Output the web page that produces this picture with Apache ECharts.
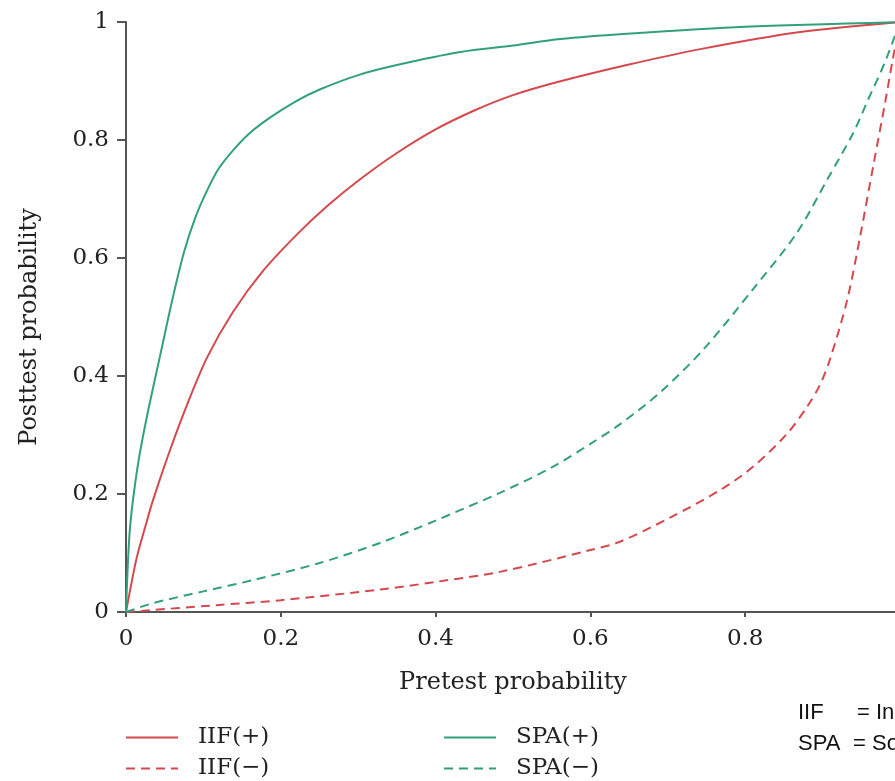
<!DOCTYPE html>
<html>
<head>
<meta charset="utf-8">
<script src="https://cdn.jsdelivr.net/npm/echarts@6/dist/echarts.min.js"></script>
<style>html,body{margin:0;padding:0;background:#fff}#c{width:895px;height:781px}</style>
</head>
<body>
<div id="c"></div>
<script>
// Tick labels (axis values)
const xTicks = [0, 0.2, 0.4, 0.6, 0.8, 1];
const yTicks = [0, 0.2, 0.4, 0.6, 0.8, 1];

// IIF(+) : pretest -> posttest
const iifPosX = [0, 0.005, 0.014, 0.025, 0.035, 0.057, 0.08, 0.105, 0.138, 0.177, 0.221, 0.26, 0.302, 0.35, 0.4, 0.45, 0.5, 0.56, 0.647, 0.742, 0.871, 1];
const iifPosY = [0, 0.035, 0.093, 0.145, 0.19, 0.275, 0.355, 0.432, 0.508, 0.578, 0.64, 0.688, 0.733, 0.778, 0.818, 0.85, 0.876, 0.899, 0.927, 0.954, 0.983, 1];

// IIF(-)
const iifNegX = [0, 0.121, 0.2, 0.328, 0.4, 0.483, 0.6, 0.638, 0.703, 0.768, 0.81, 0.854, 0.88, 0.897, 0.91, 0.932, 0.949, 0.966, 0.981, 0.99, 1];
const iifNegY = [0, 0.012, 0.02, 0.038, 0.051, 0.068, 0.105, 0.119, 0.16, 0.207, 0.246, 0.302, 0.348, 0.386, 0.43, 0.53, 0.64, 0.76, 0.865, 0.932, 1];

// SPA(+)
const spaPosX = [0, 0.002, 0.005, 0.01, 0.018, 0.03, 0.045, 0.06, 0.075, 0.09, 0.105, 0.12, 0.14, 0.16, 0.186, 0.22, 0.251, 0.3, 0.35, 0.432, 0.5, 0.561, 0.647, 0.8, 1];
const spaPosY = [0, 0.07, 0.14, 0.2, 0.27, 0.35, 0.44, 0.53, 0.61, 0.67, 0.715, 0.752, 0.785, 0.812, 0.838, 0.866, 0.886, 0.91, 0.927, 0.949, 0.96, 0.971, 0.98, 0.992, 1];

// SPA(-)
const spaNegX = [0, 0.035, 0.1, 0.164, 0.25, 0.328, 0.4, 0.483, 0.55, 0.6, 0.638, 0.69, 0.746, 0.81, 0.867, 0.906, 0.94, 0.959, 0.98, 1];
const spaNegY = [0, 0.015, 0.035, 0.054, 0.083, 0.117, 0.155, 0.202, 0.245, 0.285, 0.318, 0.372, 0.445, 0.547, 0.643, 0.733, 0.813, 0.869, 0.93, 1];

const seriesNames = ['IIF(+)', 'IIF(\u2212)', 'SPA(+)', 'SPA(\u2212)'];
const noteLines = [['IIF', '= Indirect immunofluorescence'], ['SPA', '= Solid phase assay']];

const RED = '#d4494e';
const GREEN = '#32a07a';
const SERIF = '"DejaVu Serif", serif';
const SANS = '"Liberation Sans", Arial, sans-serif';

function pairs(xs, ys) { return xs.map((x, i) => [x, ys[i]]); }

const chart = echarts.init(document.getElementById('c'), null, {renderer: 'canvas'});

function mkSeries(name, xs, ys, color, dashed) {
  return {
    name: name, type: 'line', data: pairs(xs, ys),
    showSymbol: false, symbol: 'none', smooth: 0.3,
    lineStyle: {color: color, width: 2, type: dashed ? [9, 6] : 'solid'},
    itemStyle: {color: color},
    emphasis: {disabled: true}, animation: false
  };
}

function fmt(list) {
  return v => { const t = list.find(k => Math.abs(k - v) < 1e-9); return t === undefined ? '' : String(t); };
}

const axisCommon = {
  type: 'value', min: 0, max: 1, interval: 0.2,
  axisLine: {show: true, lineStyle: {color: '#555', width: 2}},
  splitLine: {show: false},
  nameTextStyle: {color: '#222', fontFamily: SERIF, fontSize: 24},
  nameLocation: 'middle'
};
const labelCommon = {color: '#222', fontFamily: SERIF, fontSize: 23};

function legendItem(name, left, top) {
  return {
    orient: 'vertical', left: left, top: top, padding: 0, itemWidth: 52, itemHeight: 14,
    itemStyle: {opacity: 0, borderWidth: 0},
    textStyle: {color: '#222', fontFamily: SERIF, fontSize: 23, padding: [0, 0, 0, 15]},
    selectedMode: false, data: [name]
  };
}

chart.setOption({
  backgroundColor: '#fff',
  animation: false,
  grid: {left: 126, width: 774, top: 22, height: 590, containLabel: false, outerBoundsMode: 'none'},
  xAxis: Object.assign({}, axisCommon, {
    name: 'Pretest probability', nameGap: 59,
    axisTick: {show: true, length: 5, lineStyle: {color: '#555', width: 2}},
    axisLabel: Object.assign({}, labelCommon, {margin: 16, formatter: fmt(xTicks)})
  }),
  yAxis: Object.assign({}, axisCommon, {
    name: 'Posttest probability', nameGap: 84,
    nameTextStyle: Object.assign({}, axisCommon.nameTextStyle, {padding: [0, 20, 0, 0]}),
    axisTick: {show: true, length: 9, lineStyle: {color: '#555', width: 2}},
    axisLabel: Object.assign({}, labelCommon, {margin: 17, formatter: fmt(yTicks)})
  }),
  legend: [
    legendItem(seriesNames[0], 125, 726),
    legendItem(seriesNames[1], 125, 757),
    legendItem(seriesNames[2], 443, 726),
    legendItem(seriesNames[3], 443, 757)
  ],
  graphic: [
    {type: 'text', left: 798, top: 702, style: {text: noteLines[0][0], font: '22px ' + SANS, fill: '#111'}},
    {type: 'text', left: 857, top: 702, style: {text: noteLines[0][1], font: '22px ' + SANS, fill: '#111'}},
    {type: 'text', left: 798, top: 733, style: {text: noteLines[1][0], font: '22px ' + SANS, fill: '#111'}},
    {type: 'text', left: 853, top: 733, style: {text: noteLines[1][1], font: '22px ' + SANS, fill: '#111'}}
  ],
  series: [
    mkSeries(seriesNames[0], iifPosX, iifPosY, RED, false),
    mkSeries(seriesNames[1], iifNegX, iifNegY, RED, true),
    mkSeries(seriesNames[2], spaPosX, spaPosY, GREEN, false),
    mkSeries(seriesNames[3], spaNegX, spaNegY, GREEN, true)
  ]
});
</script>
</body>
</html>
